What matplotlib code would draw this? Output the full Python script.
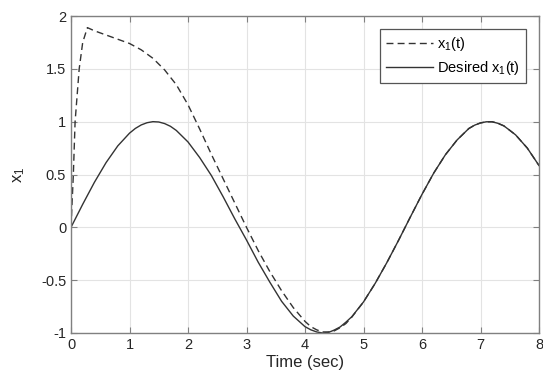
import numpy as np
import matplotlib
matplotlib.use('Agg')
import matplotlib.pyplot as plt

plt.rcParams['font.family'] = ['Liberation Sans', 'DejaVu Sans']
plt.rcParams['mathtext.default'] = 'regular'

# actual response x1(t)
t_x1 = [0.0, 0.04, 0.07, 0.14, 0.2, 0.28, 0.4, 0.6, 0.8, 1.0, 1.2, 1.4, 1.6, 1.8,
        2.0, 2.2, 2.4, 2.6, 2.8, 3.0, 3.2, 3.4, 3.6, 3.8, 4.0, 4.1, 4.2, 4.3, 4.4, 4.5, 4.6, 4.7, 4.8,
        5.0, 5.2, 5.4, 5.6, 5.8, 6.0, 6.2, 6.4, 6.6, 6.8, 6.9, 7.0, 7.1, 7.2, 7.3, 7.4, 7.5, 7.6, 7.8, 8.0]
x1 = [0.0, 0.5, 1.0, 1.5, 1.75, 1.89, 1.86, 1.82, 1.78, 1.74, 1.68, 1.60, 1.49, 1.35,
      1.16, 0.93, 0.69, 0.46, 0.23, 0.0, -0.22, -0.42, -0.60, -0.76, -0.89, -0.94, -0.97, -0.99, -0.99, -0.98, -0.95, -0.91, -0.85,
      -0.706, -0.530, -0.333, -0.122, 0.097, 0.312, 0.513, 0.687, 0.827, 0.935, 0.967, 0.988, 0.999, 0.999, 0.984, 0.960, 0.918, 0.875, 0.750, 0.585]

# desired trajectory
t_des = [0.0, 0.2, 0.4, 0.6, 0.8, 1.0, 1.1, 1.2, 1.3, 1.4, 1.5, 1.6, 1.7, 1.8, 2.0, 2.2, 2.4, 2.6, 2.8,
         3.0, 3.2, 3.4, 3.6, 3.8, 4.0, 4.1, 4.2, 4.3, 4.4, 4.5, 4.6, 4.7, 4.8, 5.0, 5.2, 5.4, 5.6, 5.8,
         6.0, 6.2, 6.4, 6.6, 6.8, 6.9, 7.0, 7.1, 7.2, 7.3, 7.4, 7.5, 7.6, 7.8, 8.0]
x1_des = [0.0, 0.218, 0.426, 0.613, 0.771, 0.891, 0.936, 0.969, 0.990, 1.000, 0.997, 0.982, 0.956, 0.917, 0.808, 0.660, 0.49, 0.29, 0.08,
          -0.12, -0.33, -0.52, -0.70, -0.84, -0.94, -0.97, -0.99, -1.0, -0.995, -0.972, -0.943, -0.897, -0.846, -0.706, -0.530, -0.333, -0.122, 0.097,
          0.312, 0.513, 0.687, 0.827, 0.935, 0.967, 0.988, 0.999, 0.999, 0.984, 0.960, 0.918, 0.875, 0.750, 0.585]

fig = plt.figure(figsize=(5.43, 3.79), dpi=100)
ax = fig.add_axes([71/543, 46/379, 468/543, 317/379])

ax.plot(t_x1, x1, '--', color='#333333', lw=1.0, dashes=(5, 3), label='x$_1$(t)')
ax.plot(t_des, x1_des, '-', color='#333333', lw=1.0, label='Desired x$_1$(t)')

ax.set_xlim(0, 8)
ax.set_ylim(-1, 2)
ax.set_xticks(range(0, 9))
ax.set_yticks([-1, -0.5, 0, 0.5, 1, 1.5, 2])
ax.set_yticklabels(['-1', '-0.5', '0', '0.5', '1', '1.5', '2'])
ax.grid(True, color='#e3e3e3', lw=0.8)
ax.set_axisbelow(True)
ax.tick_params(direction='in', top=True, right=True, length=4, width=0.8,
               colors='#808080', labelcolor='#262626', labelsize=10.5)
for s in ax.spines.values():
    s.set_color('#808080')
    s.set_linewidth(1.0)

ax.set_xlabel('Time (sec)', fontsize=12, color='#262626', labelpad=2)
ax.set_ylabel('x$_1$', fontsize=12, color='#262626', labelpad=10)

leg = ax.legend(loc='upper right', fontsize=10.5, handlelength=3.2, handletextpad=0.3,
                fancybox=False, framealpha=1, edgecolor='#555555',
                borderaxespad=0.9, borderpad=0.4, labelspacing=0.4)
leg.get_frame().set_linewidth(0.9)

fig.savefig('out.png', dpi=100)
